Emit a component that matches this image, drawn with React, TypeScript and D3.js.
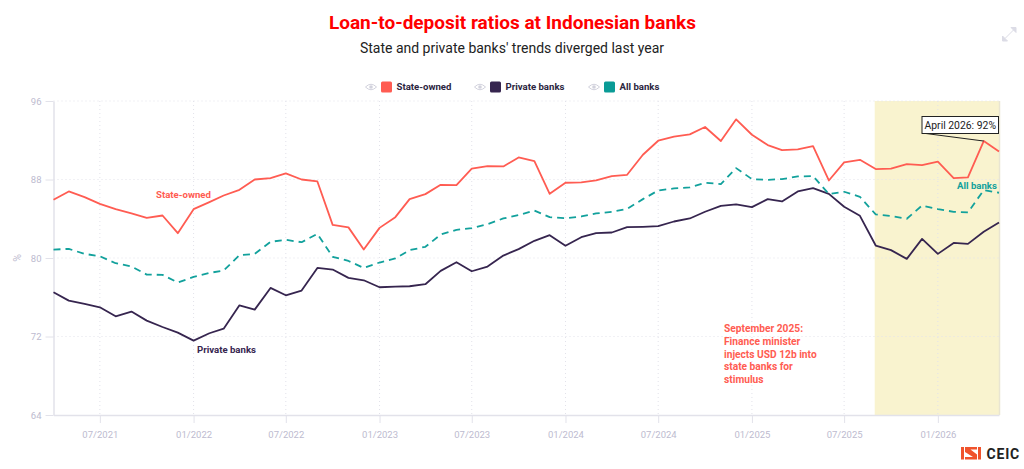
import React, { useRef, useEffect } from "react";
import * as d3 from "d3";

const startMonth = new Date(2021, 3, 1);

const stateOwned = [
  85.93, 86.78, 86.2, 85.52, 84.98, 84.54, 84.1, 84.33, 82.53, 84.98, 85.69, 86.37, 86.95, 88.0, 88.14, 88.62,
  88.0, 87.8, 83.38, 83.12, 80.86, 83.07, 84.16, 86.0, 86.51, 87.46, 87.43, 89.1, 89.37, 89.33, 90.25, 89.88,
  86.54, 87.67, 87.7, 87.9, 88.35, 88.48, 90.52, 91.95, 92.36, 92.6, 93.35, 91.92, 94.13, 92.56, 91.51, 91.0,
  91.07, 91.41, 87.9, 89.74, 90.01, 89.06, 89.1, 89.57, 89.47, 89.81, 88.14, 88.21, 91.92, 90.86,
];
const privateBanks = [
  76.51, 75.66, 75.32, 74.98, 74.06, 74.54, 73.62, 72.97, 72.39, 71.58, 72.33, 72.8, 75.18, 74.74, 76.95, 76.2,
  76.68, 78.99, 78.82, 77.97, 77.73, 77.02, 77.09, 77.12, 77.33, 78.69, 79.57, 78.65, 79.13, 80.25, 80.9, 81.75,
  82.33, 81.24, 82.12, 82.53, 82.6, 83.14, 83.18, 83.24, 83.72, 84.03, 84.71, 85.32, 85.46, 85.18, 86.0, 85.76,
  86.78, 87.12, 86.54, 85.22, 84.3, 81.27, 80.8, 79.91, 81.95, 80.42, 81.54, 81.44, 82.67, 83.62,
];
const allBanks = [
  80.86, 80.93, 80.42, 80.18, 79.47, 79.13, 78.31, 78.28, 77.5, 78.07, 78.48, 78.72, 80.29, 80.42, 81.65, 81.85,
  81.61, 82.46, 80.12, 79.7, 78.99, 79.54, 79.95, 80.8, 81.14, 82.39, 82.87, 83.04, 83.45, 84.03, 84.37, 84.84,
  84.16, 84.06, 84.23, 84.54, 84.71, 85.01, 86.0, 86.88, 87.09, 87.19, 87.67, 87.53, 89.16, 88.04, 87.97, 88.04,
  88.31, 88.35, 86.51, 86.75, 86.24, 84.44, 84.27, 84.0, 85.35, 84.98, 84.71, 84.64, 86.92, 86.65,
];

const yTicks = [64, 72, 80, 88, 96];
const xTicks = [
  new Date(2021, 6, 1), new Date(2022, 0, 1), new Date(2022, 6, 1), new Date(2023, 0, 1), new Date(2023, 6, 1),
  new Date(2024, 0, 1), new Date(2024, 6, 1), new Date(2025, 0, 1), new Date(2025, 6, 1), new Date(2026, 0, 1),
];
const bandStart = new Date(2025, 7, 30);
const calloutDate = new Date(2026, 3, 1);
const noteLines = ["September 2025:", "Finance minister", "injects USD 12b into", "state banks for", "stimulus"];

const RED = "#ff5c52";
const PURPLE = "#36254f";
const TEAL = "#12a19c";
const MUTED = "#bdbbcf";
const FONT = "Roboto, sans-serif";

const width = 1024;
const height = 469;

const months = stateOwned.map((_, i) => new Date(startMonth.getFullYear(), startMonth.getMonth() + i, 1));

export default function App() {
  const svgRef = useRef<SVGSVGElement>(null);

  useEffect(() => {
    if (!svgRef.current) return;
    const svg = d3.select(svgRef.current);
    svg.selectAll("*").remove();

    const x = d3.scaleTime().domain([months[0], months[months.length - 1]]).range([53.5, 999]);
    const y = d3.scaleLinear().domain([64, 96]).range([415, 101]);
    const bottom = y(64);
    const top = y(96);

    // title block
    svg.append("text").attr("x", 512.5).attr("y", 28.5).attr("text-anchor", "middle")
      .attr("font-size", 19).attr("font-weight", 700).attr("fill", "#ff0000").text("Loan-to-deposit ratios at Indonesian banks");
    svg.append("text").attr("x", 512).attr("y", 53).attr("text-anchor", "middle")
      .attr("font-size", 14).attr("fill", "#222").text("State and private banks' trends diverged last year");

    // expand icon
    const expand = svg.append("g").attr("fill", "#dcdce6").attr("stroke", "#dcdce6");
    expand.append("path").attr("d", "M1002.5 41v-5l5 5z");
    expand.append("path").attr("d", "M1016 27.5v5l-5 -5z");
    expand.append("path").attr("d", "M1005 38.5l8.5-8.5").attr("stroke-width", 1);

    // legend
    const legend: [string, string, number][] = [
      ["State-owned", RED, 371],
      ["Private banks", PURPLE, 480],
      ["All banks", TEAL, 594],
    ];
    legend.forEach(([label, color, cx]) => {
      const g = svg.append("g").attr("transform", `translate(${cx},87)`);
      g.append("path").attr("d", "M-5.5 0Q0 -5.5 5.5 0Q0 5.5 -5.5 0Z").attr("fill", "none").attr("stroke", "#d2d2dd").attr("stroke-width", 1);
      g.append("circle").attr("r", 1.8).attr("fill", "#d2d2dd");
      g.append("rect").attr("x", 10).attr("y", -5.5).attr("width", 11).attr("height", 11).attr("rx", 1.5)
        .attr("fill", color === TEAL ? "#0a9b96" : color);
      g.append("text").attr("x", 25.5).attr("y", 3.4).attr("font-size", 9.6).attr("font-weight", 700).attr("fill", "#2b2540").text(label);
    });

    // highlighted period
    svg.append("rect").attr("x", x(bandStart)).attr("y", top).attr("width", 999 - x(bandStart)).attr("height", bottom - top).attr("fill", "#f9f3cf");
    svg.append("line").attr("x1", 999.5).attr("x2", 999.5).attr("y1", top).attr("y2", bottom).attr("stroke", "#e9e5d2").attr("stroke-width", 1.5);

    // grid
    svg.append("g").selectAll("line").data(yTicks.slice(1)).enter().append("line")
      .attr("x1", 53.5).attr("x2", 999).attr("y1", (d) => y(d)).attr("y2", (d) => y(d))
      .attr("stroke", "#e2e2ea").attr("stroke-width", 1).attr("stroke-dasharray", "1 3");
    svg.append("g").selectAll("line").data(xTicks).enter().append("line")
      .attr("x1", (d) => x(d)).attr("x2", (d) => x(d)).attr("y1", top).attr("y2", bottom)
      .attr("stroke", "#e2e2ea").attr("stroke-width", 1).attr("stroke-dasharray", "1 3");

    // axes
    const yAxis = d3.axisLeft(y).tickValues(yTicks).tickSize(8).tickSizeOuter(0).tickPadding(4).tickFormat((d) => String(d));
    const yG = svg.append("g").attr("transform", "translate(53.5,0)").call(yAxis);
    const xAxis = d3.axisBottom(x).tickValues(xTicks).tickSize(8).tickSizeOuter(0).tickPadding(8).tickFormat((d) => d3.timeFormat("%m/%Y")(d as Date));
    const xG = svg.append("g").attr("transform", `translate(0,${bottom})`).call(xAxis);
    [yG, xG].forEach((g) => {
      g.select(".domain").attr("stroke", "#e2e2ea").attr("stroke-width", 1.5);
      g.selectAll(".tick line").attr("stroke", "#e2e2ea").attr("stroke-width", 1);
      g.selectAll(".tick text").attr("fill", MUTED).attr("font-size", 9.5).attr("font-family", FONT);
    });
    svg.append("text").attr("transform", "translate(21,258) rotate(-90)").attr("text-anchor", "middle")
      .attr("font-size", 10.5).attr("fill", MUTED).text("%");

    // lines
    const line = d3.line<number>().x((_, i) => x(months[i])).y((d) => y(d));
    const series: [number[], string, string | null][] = [
      [stateOwned, RED, null],
      [privateBanks, PURPLE, null],
      [allBanks, TEAL, "7 5"],
    ];
    series.forEach(([values, color, dash]) => {
      svg.append("path").datum(values).attr("d", line).attr("fill", "none").attr("stroke", color)
        .attr("stroke-width", 1.8).attr("stroke-linejoin", "round").attr("stroke-dasharray", dash);
    });

    // series labels
    const labels: [string, string, number, number][] = [
      ["State-owned", RED, 156, 198],
      ["Private banks", PURPLE, 197, 353],
      ["All banks", TEAL, 957, 189],
    ];
    labels.forEach(([label, color, lx, ly]) => {
      svg.append("text").attr("x", lx).attr("y", ly).attr("font-size", 9.6).attr("font-weight", 700).attr("fill", color).text(label);
    });

    // note
    const note = svg.append("text").attr("font-size", 10.2).attr("font-weight", 700).attr("fill", RED);
    noteLines.forEach((l, i) => note.append("tspan").attr("x", 724).attr("y", 332 + i * 12.8).text(l));

    // callout
    const calloutY = y(stateOwned[months.findIndex((m) => +m === +calloutDate)]);
    svg.append("line").attr("x1", 922).attr("y1", 133).attr("x2", x(calloutDate)).attr("y2", calloutY).attr("stroke", "#222").attr("stroke-width", 1);
    svg.append("rect").attr("x", 922).attr("y", 116.5).attr("width", 76.5).attr("height", 17).attr("fill", "#fff").attr("stroke", "#222").attr("stroke-width", 1);
    svg.append("text").attr("x", 924.5).attr("y", 129).attr("font-size", 10.4).attr("fill", "#222").text("April 2026: 92%");

    // logo
    const logo = svg.append("g").attr("transform", "translate(961,447)").attr("fill", "#f0532d");
    logo.append("rect").attr("width", 3).attr("height", 12.5);
    logo.append("rect").attr("x", 17).attr("width", 3).attr("height", 12.5);
    logo.append("path").attr("d", "M4 0H16V2.5H9.5L16 7.5V12.5H4V10H12L4 5Z");
    svg.append("text").attr("x", 986.5).attr("y", 459).attr("font-size", 14).attr("font-weight", 700).attr("letter-spacing", 0.8).attr("fill", "#222").text("CEIC");
  }, []);

  return (
    <svg
      ref={svgRef}
      width={width}
      height={height}
      viewBox={`0 0 ${width} ${height}`}
      style={{ position: "absolute", left: 0, top: 0, fontFamily: FONT, background: "#fff" }}
    />
  );
}
